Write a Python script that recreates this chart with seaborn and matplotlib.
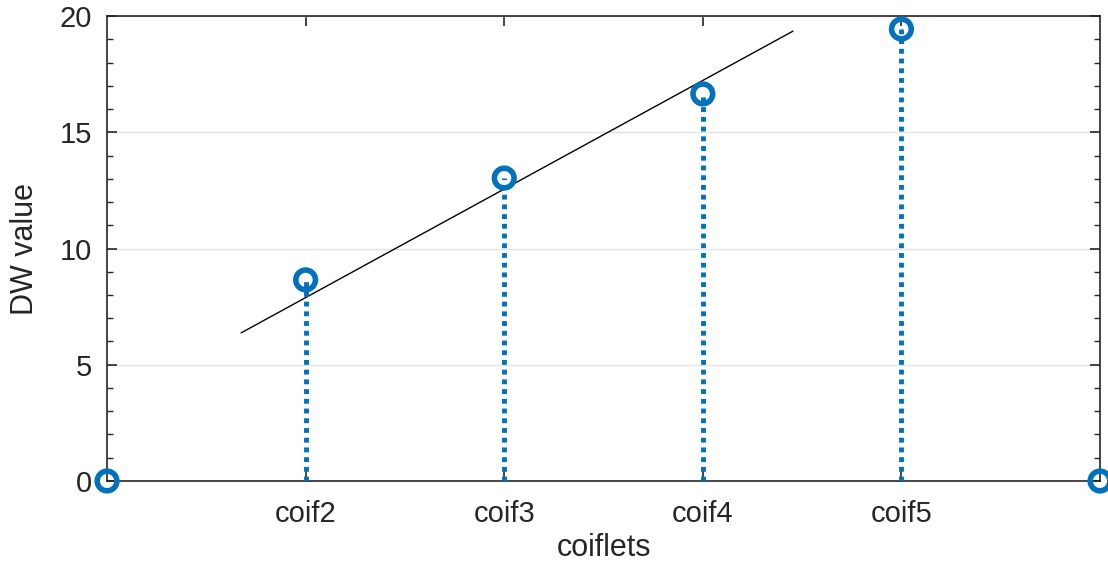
import numpy as np
import pandas as pd
import matplotlib
matplotlib.use("Agg")
import matplotlib.pyplot as plt
from matplotlib.ticker import MultipleLocator
import seaborn as sns

# Data
positions = [0, 1, 2, 3, 4, 5]
dw_values = [0.0, 8.65, 13.03, 16.65, 19.44, 0.0]
tick_positions = [1, 2, 3, 4]
tick_labels = ["coif2", "coif3", "coif4", "coif5"]
line_x = [0.675, 3.454]
line_y = [6.37, 19.35]

sns.set_theme(style="white")
plt.rcParams['font.family'] = ['Liberation Sans', 'DejaVu Sans']

fig = plt.figure(figsize=(11.08, 5.66), dpi=100)
ax = fig.add_axes([0.0966, 0.1502, 0.8962, 0.8215])

blue = "#0072BD"
df = pd.DataFrame({"pos": positions, "dw": dw_values})

# stems
ax.vlines(df["pos"], 0, df["dw"], colors=blue, linestyles=(0, (1, 1)), linewidth=3.5, zorder=3)
# markers
sns.scatterplot(data=df, x="pos", y="dw", ax=ax, marker="o", s=200,
                facecolors="none", edgecolor=blue, linewidth=4, zorder=4, clip_on=False)
# line
sns.lineplot(x=line_x, y=line_y, ax=ax, color="black", linewidth=1, zorder=2)

ax.set_xlim(0, 5)
ax.set_ylim(0, 20)
ax.set_xticks(tick_positions)
ax.set_xticklabels(tick_labels)
ax.set_yticks([0, 5, 10, 15, 20])
ax.yaxis.set_minor_locator(MultipleLocator(1))
ax.yaxis.grid(True, which="major", color="#e3e3e3", linewidth=1)
ax.set_axisbelow(True)

for s in ax.spines.values():
    s.set_color("#262626")
    s.set_linewidth(1.2)

ax.tick_params(axis="both", which="both", direction="in", colors="#262626",
               top=True, right=True, bottom=True, left=True, labelsize=21)
ax.tick_params(axis="both", which="major", length=7, width=1.2)
ax.tick_params(axis="x", which="major", pad=14)
ax.tick_params(axis="y", which="major", pad=11)
ax.tick_params(axis="y", which="minor", length=4, width=1.0)
ax.tick_params(axis="x", which="minor", bottom=False, top=False)

ax.set_xlabel("coiflets", fontsize=22, color="#262626", labelpad=3)
ax.set_ylabel("DW value", fontsize=22, color="#262626", labelpad=14)

fig.savefig("out.png", dpi=100)
